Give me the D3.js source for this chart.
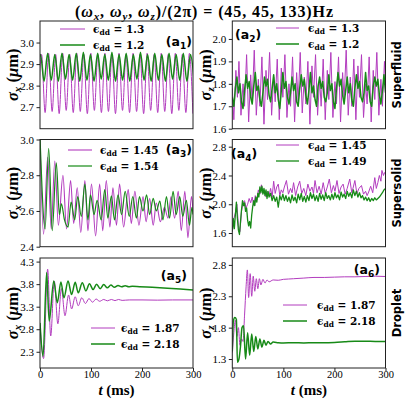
<!DOCTYPE html>
<html lang="en">
<head>
<meta charset="UTF-8">
<title>sigma dynamics</title>
<script src="https://cdn.jsdelivr.net/npm/d3@7"></script>
<style>
  body { margin: 0; background: #fff; }
  svg { display: block; }
</style>
</head>
<body>
<div id="chart-space"></div>
<script>
// ---- data (t in ms, sigma in um) ----
var timeTicks = [0, 100, 200, 300];
var rowNames = ["Superfluid", "Supersolid", "Droplet"];

var epsA1 = ["1.3", "1.2"];
var epsA2 = ["1.3", "1.2"];
var epsA3 = ["1.45", "1.54"];
var epsA4 = ["1.45", "1.49"];
var epsA5 = ["1.87", "2.18"];
var epsA6 = ["1.87", "2.18"];

var yTicksA1 = [2.7, 2.8, 2.9, 3.0];
var yTicksA2 = [1.6, 1.7, 1.8, 1.9, 2.0];
var yTicksA3 = [2.4, 2.6, 2.8, 3.0];
var yTicksA4 = [1.6, 2.0, 2.4, 2.8];
var yTicksA5 = [2.3, 2.8, 3.3, 3.8, 4.3];
var yTicksA6 = [1.3, 1.8, 2.3, 2.8];

// (a1) sigma_x superfluid, extrema
var a1Magenta = [[-3.8,2.68],[3.1,2.945],[10,2.675],[16.9,2.95],[23.8,2.68],[30.7,2.945],[37.6,2.67],[44.5,2.95],
  [51.4,2.685],[58.3,2.945],[65.2,2.675],[72.1,2.95],[79,2.68],[85.9,2.945],[92.8,2.67],[99.7,2.95],[106.6,2.685],
  [113.5,2.945],[120.4,2.675],[127.3,2.95],[134.2,2.68],[141.1,2.945],[148,2.67],[154.9,2.95],[161.8,2.685],
  [168.7,2.945],[175.6,2.675],[182.5,2.95],[189.4,2.68],[196.3,2.945],[203.2,2.67],[210.1,2.95],[217,2.685],
  [223.9,2.945],[230.8,2.675],[237.7,2.95],[244.6,2.68],[251.5,2.945],[258.4,2.67],[265.3,2.95],[272.2,2.685],
  [279.1,2.945],[286,2.675],[292.9,2.95],[299.8,2.67]];
var a1Green = [[-6,2.825],[1,2.945],[8,2.82],[15,2.95],[22,2.825],[29,2.945],[36,2.82],[43,2.95],[50,2.83],[57,2.945],
  [64,2.825],[71,2.95],[78,2.82],[85,2.955],[92,2.825],[99,2.945],[106,2.82],[113,2.95],[120,2.83],[127,2.945],
  [134,2.825],[141,2.955],[148,2.82],[155,2.945],[162,2.825],[169,2.95],[176,2.82],[183,2.945],[190,2.83],[197,2.955],
  [204,2.825],[211,2.945],[218,2.82],[225,2.95],[232,2.825],[239,2.945],[246,2.82],[253,2.95],[260,2.83],[267,2.945],
  [274,2.825],[281,2.95],[288,2.82],[295,2.945],[302,2.83]];

// (a2) sigma_z superfluid
var a2Magenta = [[0,1.78],[3,1.64],[7,1.86],[10,1.74],[13,1.90],[17,1.66],[21,1.80],[24,1.70],[28,1.93],[32,1.63],
  [36,1.84],[39,1.72],[43,1.95],[47,1.66],[51,1.82],[54,1.70],[58,1.92],[62,1.62],[66,1.86],[69,1.73],[73,1.94],
  [77,1.66],[81,1.83],[84,1.72],[88,1.91],[92,1.64],[96,1.87],[99,1.74],[103,1.93],[107,1.65],[111,1.80],[114,1.70],
  [118,1.92],[122,1.63],[126,1.85],[129,1.72],[133,1.94],[137,1.67],[141,1.83],[144,1.71],[148,1.90],[152,1.62],
  [156,1.88],[159,1.74],[163,1.93],[167,1.66],[171,1.82],[174,1.70],[178,1.91],[182,1.64],[186,1.86],[189,1.73],
  [193,1.94],[197,1.65],[201,1.81],[204,1.71],[208,1.92],[212,1.63],[216,1.85],[219,1.73],[223,1.95],[227,1.66],
  [231,1.83],[234,1.70],[238,1.91],[242,1.64],[246,1.88],[249,1.74],[253,1.93],[257,1.65],[261,1.80],[264,1.71],
  [268,1.92],[272,1.63],[276,1.86],[279,1.73],[283,1.94],[287,1.66],[291,1.82],[294,1.70],[298,1.90],[300,1.80]];
var a2GreenStep = 3;
var a2Green = [1.74,1.70,1.78,1.83,1.76,1.80, 1.72,1.69,1.77,1.84,1.78,1.81, 1.74,1.71,1.79,1.85,1.77,1.79,
  1.73,1.70,1.76,1.83,1.79,1.82, 1.75,1.72,1.78,1.84,1.76,1.80, 1.73,1.69,1.77,1.85,1.78,1.81,
  1.74,1.71,1.76,1.83,1.77,1.80, 1.72,1.70,1.78,1.84,1.79,1.82, 1.75,1.71,1.77,1.85,1.76,1.79,
  1.73,1.70,1.79,1.83,1.78,1.81, 1.74,1.72,1.76,1.84,1.77,1.80, 1.72,1.69,1.78,1.85,1.79,1.82,
  1.75,1.71,1.77,1.83,1.76,1.80, 1.73,1.70,1.78,1.84,1.78,1.81, 1.74,1.72,1.76,1.85,1.77,1.79,
  1.72,1.70,1.79,1.83,1.79,1.82, 1.75,1.71,1.77,1.84,1.76];

// (a3) sigma_x supersolid
var a3Magenta = [[0,3.00],[7,2.47],[15,2.90],[22,2.50],[29,2.88],[36,2.52],[45,2.80],[52,2.50],[60,2.77],[66,2.53],
  [73,2.73],[80,2.48],[88,2.77],[94,2.49],[101,2.75],[109,2.46],[117,2.75],[123,2.49],[130,2.77],[137,2.51],
  [143,2.73],[150,2.52],[156,2.75],[164,2.51],[173,2.72],[179,2.53],[186,2.71],[194,2.52],[202,2.68],[208,2.54],
  [215,2.67],[222,2.52],[228,2.645],[236,2.54],[244,2.62],[251,2.56],[257,2.68],[264,2.56],[271,2.71],[277,2.49],
  [284,2.71],[290,2.45],[297,2.68],[300,2.60]];
var a3Green = [[0,3.02],[10,2.50],[17,2.95],[24,2.49],[32,2.87],[38,2.58],[42,2.64],[48,2.55],[55,2.51],[61,2.65],
  [68,2.55],[74,2.68],[81,2.57],[88,2.75],[94,2.55],[99,2.69],[106,2.58],[112,2.66],[120,2.55],[127,2.72],
  [133,2.56],[140,2.685],[146,2.55],[153,2.69],[160,2.58],[167,2.71],[175,2.57],[182,2.68],[189,2.56],[195,2.68],
  [202,2.60],[209,2.69],[215,2.58],[222,2.67],[228,2.60],[235,2.655],[241,2.55],[248,2.68],[254,2.56],[261,2.71],
  [267,2.58],[274,2.68],[280,2.57],[287,2.66],[293,2.52],[298,2.62],[300,2.58]];

// (a4) sigma_z supersolid
var a4Magenta = [[0,1.62],[3,1.80],[6,1.88],[9,2.00],[12,1.70],[15,1.62],[18,1.90],[21,2.02],[24,2.05],[27,1.95],
  [30,2.00],[33,2.08],[36,2.02],[39,2.10],[42,1.98],[45,2.12],[48,2.06],[51,2.20],[54,2.14],[57,2.27],[60,2.15],
  [63,2.20],[66,2.10],[69,2.18],[72,2.12],[75,2.22],[78,2.10],[81,2.32],[84,2.15],[87,2.24],[90,2.28],[93,2.12],
  [96,2.20],[99,2.16],[102,2.24],[106,2.33],[110,2.14],[114,2.22],[117,2.16],[120,2.30],[124,2.12],[128,2.24],
  [132,2.32],[136,2.15],[140,2.22],[144,2.12],[148,2.28],[152,2.18],[156,2.24],[159,2.15],[162,2.33],[166,2.16],
  [170,2.25],[174,2.14],[178,2.30],[182,2.15],[186,2.24],[190,2.35],[194,2.16],[198,2.26],[201,2.18],[205,2.33],
  [209,2.15],[213,2.24],[217,2.28],[221,2.14],[225,2.22],[230,2.35],[234,2.16],[237,2.24],[240,2.33],[244,2.15],
  [248,2.22],[253,2.26],[257,2.14],[261,2.18],[264,2.12],[267,2.17],[271,2.25],[275,2.16],[279,2.37],[282,2.22],
  [285,2.30],[288,2.40],[291,2.32],[293,2.47],[296,2.40],[298,2.44],[300,2.42]];
var a4Green = [[0,1.62],[2,1.80],[4,1.66],[6,1.85],[8,2.03],[10,1.80],[12,1.64],[14,1.58],[16,1.75],[18,1.92],
  [20,2.05],[22,1.98],[24,2.02],[26,1.90],[28,1.95],[30,1.78],[32,1.70],[34,1.76],[36,1.67],[38,1.85],[40,1.97],
  [42,2.05],[44,1.98],[46,2.10],[48,2.03],[50,2.15],[52,2.10],[54,2.24],[56,2.16],[58,2.25],[60,2.14],[62,2.22],
  [64,2.12],[66,2.20],[68,2.08],[70,2.18],[72,2.10],[75,2.15],[78,2.05],[81,2.12],[84,2.04],[87,2.10],[90,1.96],
  [93,2.12],[96,2.06],[99,2.14],[102,2.05],[105,2.12],[108,2.04],[111,2.10],[114,2.02],[117,2.13],[120,2.05],
  [123,2.10],[126,2.02],[129,2.14],[132,2.06],[135,2.15],[138,2.04],[141,2.11],[144,2.03],[147,2.12],[150,2.05],
  [153,2.16],[156,2.08],[159,2.14],[162,2.05],[165,2.12],[168,2.04],[171,2.15],[174,2.07],[177,2.13],[180,2.05],
  [183,2.16],[186,2.08],[189,2.12],[192,2.06],[195,2.14],[198,2.07],[201,2.16],[204,2.09],[207,2.13],[210,2.06],
  [213,2.17],[216,2.10],[219,2.14],[222,2.08],[225,2.18],[228,2.11],[231,2.16],[234,2.09],[237,2.20],[240,2.12],
  [243,2.18],[246,2.10],[249,2.16],[252,2.09],[255,2.12],[258,2.06],[261,2.10],[264,2.05],[267,2.09],[270,2.04],
  [273,2.08],[276,2.05],[279,2.09],[282,2.06],[285,2.08],[288,2.10],[291,2.13],[294,2.16],[297,2.20],[300,2.22]];

// (a5) sigma_x droplet
var a5Magenta = [[0,2.90],[7,2.15],[15,4.13],[21,2.65],[28,3.87],[35,2.92],[42,3.70],[49,3.10],[56,3.56],[62,3.25],
  [69,3.52],[75,3.32],[82,3.50],[89,3.37],[96,3.48],[103,3.40],[110,3.47],[117,3.42],[125,3.46],[132,3.43],
  [140,3.46],[147,3.435],[154,3.46],[161,3.44],[175,3.45],[200,3.45],[230,3.445],[260,3.45],[300,3.45]];
var a5Green = [[0,2.94],[6,2.20],[13,4.06],[18,2.98],[27,3.87],[34,3.39],[41,3.85],[47,3.50],[55,3.87],[62,3.57],
  [69,3.84],[75,3.61],[83,3.83],[90,3.65],[97,3.81],[104,3.68],[111,3.80],[118,3.70],[125,3.79],[132,3.72],
  [139,3.78],[146,3.73],[153,3.77],[160,3.74],[167,3.765],[174,3.745],[181,3.755],[195,3.745],[220,3.73],
  [250,3.71],[275,3.69],[300,3.67]];

// (a6) sigma_z droplet
var a6Magenta = [[0,1.40],[3,1.72],[6,1.92],[9,1.66],[12,1.80],[15,1.52],[18,1.62],[21,1.58],[24,2.00],[27,2.45],
  [29.5,2.72],[32,2.28],[35,2.66],[38,2.30],[41,2.62],[44,2.38],[47,2.58],[50,2.42],[53,2.58],[56,2.48],[60,2.57],
  [64,2.51],[68,2.56],[72,2.53],[80,2.56],[90,2.555],[100,2.57],[110,2.575],[120,2.58],[140,2.59],[160,2.60],
  [180,2.60],[200,2.605],[220,2.61],[240,2.61],[260,2.615],[280,2.62],[300,2.615]];
var a6Green = [[0,1.42],[2,1.90],[5,1.96],[8,1.93],[10,1.25],[13,1.30],[16,1.50],[19,1.80],[22,1.83],[26,1.30],
  [30,1.72],[34,1.36],[38,1.70],[42,1.42],[46,1.66],[50,1.46],[54,1.62],[58,1.49],[62,1.60],[66,1.52],[70,1.58],
  [75,1.54],[80,1.57],[90,1.56],[100,1.555],[120,1.56],[140,1.555],[160,1.56],[180,1.56],[200,1.565],[220,1.575],
  [240,1.585],[260,1.585],[280,1.58],[300,1.58]];

// ---- layout ----
var width = 407, height = 399;
var colLeft = [40, 232.3], colRight = [193, 385.5];
var rowTop = [21, 139.5, 258], rowBottom = [128.7, 246.7, 368];
var magenta = "#b23cbe", green = "#178a17";
var serif = "'Liberation Serif', 'DejaVu Serif', serif";

var panels = [
  {name: "1", axis: "x", domain: [2.6, 3.1], ticks: yTicksA1, eps: epsA1, curve: d3.curveMonotoneX,
   series: [{data: a1Magenta, color: magenta, w: 1}, {data: a1Green, color: green, w: 1.5}],
   legend: {x1: 60, x2: 85, tx: 93, y: 29}, tag: {x: 192, y: 46, anchor: "end"}},
  {name: "2", axis: "z", domain: [1.6, 2.08], ticks: yTicksA2, eps: epsA2, curve: d3.curveLinear,
   series: [{data: a2Magenta, color: magenta, w: 1},
            {data: a2Green.map(function(v, i) { return [i * a2GreenStep, v]; }), color: green, w: 1.5}],
   legend: {x1: 276, x2: 299, tx: 308, y: 28}, tag: {x: 235, y: 39, anchor: "start"}},
  {name: "3", axis: "x", domain: [2.4, 3.0], ticks: yTicksA3, eps: epsA3, curve: d3.curveMonotoneX,
   series: [{data: a3Magenta, color: magenta, w: 1.1}, {data: a3Green, color: green, w: 1.2}],
   legend: {x1: 68, x2: 92, tx: 100, y: 150}, tag: {x: 192, y: 154, anchor: "end"}},
  {name: "4", axis: "z", domain: [1.41, 2.9], ticks: yTicksA4, eps: epsA4, curve: d3.curveLinear,
   series: [{data: a4Magenta, color: magenta, w: 1}, {data: a4Green, color: green, w: 1.3}],
   legend: {x1: 276, x2: 299, tx: 308, y: 145}, tag: {x: 231, y: 158, anchor: "start"}},
  {name: "5", axis: "x", domain: [1.94, 4.38], ticks: yTicksA5, eps: epsA5, curve: d3.curveMonotoneX,
   series: [{data: a5Magenta, color: magenta, w: 1}, {data: a5Green, color: green, w: 1.5}],
   legend: {x1: 91, x2: 115, tx: 121, y: 328}, tag: {x: 187, y: 280, anchor: "end"}},
  {name: "6", axis: "z", domain: [1.157, 2.91], ticks: yTicksA6, eps: epsA6, curve: d3.curveMonotoneX,
   series: [{data: a6Magenta, color: magenta, w: 1}, {data: a6Green, color: green, w: 1.5}],
   legend: {x1: 283, x2: 307, tx: 317, y: 305}, tag: {x: 380, y: 274, anchor: "end"}}
];

var svg = d3.select("#chart-space").append("svg")
  .attr("width", width).attr("height", height);

// title
var title = svg.append("text").attr("x", 75).attr("y", 17)
  .attr("textLength", 258).attr("lengthAdjust", "spacing")
  .attr("font-family", serif).attr("font-weight", "bold").attr("font-size", 16);
[["(", ""], ["ω", "i"], ["x", "s"], [", ", "u"], ["ω", "i"], ["y", "s"], [", ", "u"], ["ω", "i"], ["z", "s"],
 [")/(2π) = (45, 45, 133)Hz", "u"]].forEach(function(p) {
  var ts = title.append("tspan").text(p[0]);
  if (p[1] === "i") ts.attr("font-style", "italic");
  if (p[1] === "s") ts.attr("font-style", "italic").attr("font-size", 11).attr("dy", 3);
  if (p[1] === "u") ts.attr("dy", -3);
});

panels.forEach(function(p, i) {
  var col = i % 2, row = Math.floor(i / 2);
  var left = colLeft[col], right = colRight[col], top = rowTop[row], bottom = rowBottom[row];

  var x = d3.scaleLinear().domain([0, 300]).range([left, right]);
  var y = d3.scaleLinear().domain(p.domain).range([bottom, top]);

  svg.append("clipPath").attr("id", "clip" + i)
    .append("rect").attr("x", left).attr("y", top)
    .attr("width", right - left).attr("height", bottom - top);

  var line = d3.line()
    .x(function(d) { return x(d[0]); })
    .y(function(d) { return y(d[1]); })
    .curve(p.curve);

  p.series.forEach(function(s) {
    svg.append("path").datum(s.data)
      .attr("clip-path", "url(#clip" + i + ")")
      .attr("fill", "none")
      .attr("stroke", s.color)
      .attr("stroke-width", s.w)
      .attr("stroke-linejoin", "round")
      .attr("d", line);
  });

  // y axis
  var gy = svg.append("g").attr("transform", "translate(" + left + ",0)")
    .call(d3.axisLeft(y).tickValues(p.ticks).tickSize(3.5).tickPadding(2.5).tickFormat(d3.format(".1f")));
  gy.select(".domain").remove();
  gy.attr("font-family", serif).attr("font-size", 11);
  gy.selectAll("line").attr("stroke", "#222");

  // x axis only on bottom row
  if (row === 2) {
    var gx = svg.append("g").attr("transform", "translate(0," + bottom + ")")
      .call(d3.axisBottom(x).tickValues(timeTicks).tickSize(3).tickPadding(0));
    gx.select(".domain").remove();
    gx.attr("font-family", serif).attr("font-size", 10.5);
    gx.selectAll("line").attr("stroke", "#222");

    var xl = svg.append("text").attr("x", (left + right) / 2).attr("y", 395).attr("text-anchor", "middle")
      .attr("font-family", serif).attr("font-weight", "bold").attr("font-size", 15);
    xl.append("tspan").attr("font-style", "italic").text("t");
    xl.append("tspan").text(" (ms)");
  }

  // frame
  svg.append("rect").attr("x", left).attr("y", top)
    .attr("width", right - left).attr("height", bottom - top)
    .attr("fill", "none").attr("stroke", "#222").attr("stroke-width", 1);

  // y label
  var lx = col === 0 ? 18 : 211;
  var yl = svg.append("text")
    .attr("transform", "translate(" + lx + "," + (top + bottom) / 2 + ") rotate(-90)")
    .attr("text-anchor", "middle")
    .attr("font-family", serif).attr("font-weight", "bold").attr("font-size", 16.5);
  yl.append("tspan").attr("font-style", "italic").text("σ");
  yl.append("tspan").attr("font-style", "italic").attr("font-size", 11).attr("dy", 3).text(p.axis);
  yl.append("tspan").attr("dy", -3).text(" (");
  yl.append("tspan").attr("font-style", "italic").text("μ");
  yl.append("tspan").text("m)");

  // legend
  p.series.forEach(function(s, k) {
    var ly = p.legend.y + k * 16;
    svg.append("line").attr("x1", p.legend.x1).attr("x2", p.legend.x2)
      .attr("y1", ly).attr("y2", ly)
      .attr("stroke", s.color).attr("stroke-width", s.w);
    var t = svg.append("text").attr("x", p.legend.tx).attr("y", ly + 4)
      .attr("font-family", "'DejaVu Serif', serif").attr("font-weight", "bold").attr("font-size", 10.5);
    t.append("tspan").text("ϵ");
    t.append("tspan").attr("font-size", 7.5).attr("dy", 2).text("dd");
    t.append("tspan").attr("dy", -2).text(" = " + p.eps[k]);
  });

  // panel tag
  var tg = svg.append("text").attr("x", p.tag.x).attr("y", p.tag.y).attr("text-anchor", p.tag.anchor)
    .attr("font-family", "'DejaVu Sans', sans-serif").attr("font-weight", "bold").attr("font-size", 12.5);
  tg.append("tspan").text("(a");
  tg.append("tspan").attr("font-size", 9).attr("dy", 2.5).text(p.name);
  tg.append("tspan").attr("dy", -2.5).text(")");
});

// row labels
rowNames.forEach(function(n, r) {
  svg.append("text")
    .attr("transform", "translate(401," + (rowTop[r] + rowBottom[r]) / 2 + ") rotate(-90)")
    .attr("text-anchor", "middle")
    .attr("font-family", "'DejaVu Sans', sans-serif").attr("font-weight", "bold").attr("font-size", 11.5)
    .text(n);
});
</script>
</body>
</html>
